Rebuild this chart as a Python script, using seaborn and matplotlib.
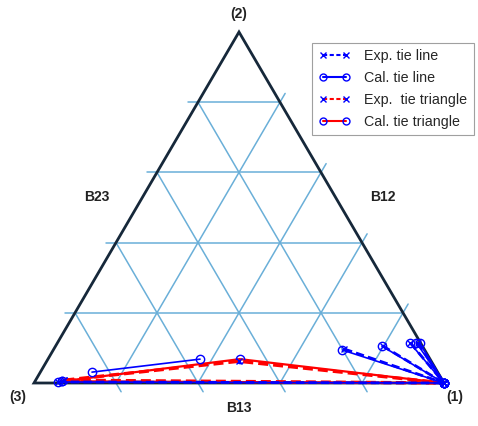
import numpy as np
import pandas as pd
import matplotlib
matplotlib.use("Agg")
import matplotlib.pyplot as plt
from matplotlib.lines import Line2D
import seaborn as sns

# ---- data: ternary mole fractions (x1, x2); x3 = 1 - x1 - x2 ----
# experimental tie lines: end a (poor in component 1) and end b (rich in component 1)
exp_tie_a_x1 = [0.058, 0.708, 0.797, 0.861, 0.879]
exp_tie_a_x2 = [0.003, 0.097, 0.106, 0.114, 0.115]
exp_tie_b_x1 = [1.000, 1.000, 1.000, 1.000, 1.000]
exp_tie_b_x2 = [0.000, 0.000, 0.000, 0.000, 0.000]

# calculated tie lines
cal_tie_a_x1 = [0.056, 0.126, 0.705, 0.796, 0.860, 0.875, 0.884]
cal_tie_a_x2 = [0.003, 0.031, 0.094, 0.105, 0.114, 0.115, 0.114]
cal_tie_b_x1 = [1.000, 0.371, 1.000, 1.000, 1.000, 1.000, 1.000]
cal_tie_b_x2 = [0.000, 0.068, 0.000, 0.000, 0.000, 0.000, 0.000]

# three-phase tie triangles (vertices)
exp_tri_x1 = [0.070, 0.469, 1.000]
exp_tri_x2 = [0.008, 0.062, 0.000]
cal_tri_x1 = [0.066, 0.468, 1.000]
cal_tri_x2 = [0.005, 0.068, 0.000]

grid_levels = [0.2, 0.4, 0.6, 0.8]
vertex_labels = ["(1)", "(2)", "(3)"]
edge_labels = ["B12", "B23", "B13"]
legend_labels = ["Exp. tie line", "Cal. tie line", "Exp.  tie triangle", "Cal. tie triangle"]

H = np.sqrt(3) / 2


def to_xy(x1, x2):
    x1 = np.asarray(x1, float)
    x2 = np.asarray(x2, float)
    return x1 + 0.5 * x2, x2 * H


def segments_frame(ax1, ax2, bx1, bx2):
    rows = []
    for i, (a1, a2, b1, b2) in enumerate(zip(ax1, ax2, bx1, bx2)):
        for p1, p2 in ((a1, a2), (b1, b2)):
            X, Y = to_xy(p1, p2)
            rows.append({"seg": i, "X": float(X), "Y": float(Y)})
    return pd.DataFrame(rows)


def polygon_frame(x1, x2):
    X, Y = to_xy(list(x1) + [x1[0]], list(x2) + [x2[0]])
    return pd.DataFrame({"seg": 0, "X": X, "Y": Y})


sns.set_style("white")
plt.rcParams["font.family"] = ["Liberation Sans", "DejaVu Sans"]

W, Hpx = 478, 426
fig = plt.figure(figsize=(W / 100, Hpx / 100), dpi=100)
ax = fig.add_axes([0, 0, 1, 1])

# triangle placement in the figure (pixels)
left_px, right_px, base_px, top_px = 34, 444, 383, 32
sx = right_px - left_px
sy = (base_px - top_px) / H
ax.set_xlim(-left_px / sx, (W - left_px) / sx)
ax.set_ylim(-(Hpx - base_px) / sy, base_px / sy)
ax.set_axis_off()

grid_color = "#6aafd8"
edge_color = "#16283a"
ext = 0.025

# grid lines, each overhanging one side of the triangle
for k in grid_levels:
    # constant x2 (horizontal), overhangs the 2-3 side
    X, Y = to_xy([-ext, 1 - k], [k, k])
    ax.plot(X, Y, color=grid_color, lw=1.1, zorder=1)
    # constant x1, overhangs the 1-2 side
    X, Y = to_xy([k, k], [0, 1 - k + ext])
    ax.plot(X, Y, color=grid_color, lw=1.1, zorder=1)
    # constant x3, overhangs the 1-3 side
    X, Y = to_xy([0, 1 - k + ext], [1 - k, -ext])
    ax.plot(X, Y, color=grid_color, lw=1.1, zorder=1)

# triangle outline
X, Y = to_xy([1, 0, 0, 1], [0, 1, 0, 0])
ax.plot(X, Y, color=edge_color, lw=2.0, zorder=2, solid_joinstyle="miter")

# tie triangles
cal_tri = polygon_frame(cal_tri_x1, cal_tri_x2)
exp_tri = polygon_frame(exp_tri_x1, exp_tri_x2)
sns.lineplot(data=cal_tri, x="X", y="Y", units="seg", estimator=None, sort=False,
             ax=ax, color="red", lw=1.6, marker="o", markersize=6,
             markerfacecolor="none", markeredgecolor="blue", markeredgewidth=1.0,
             zorder=4, legend=False)
sns.lineplot(data=exp_tri, x="X", y="Y", units="seg", estimator=None, sort=False,
             ax=ax, color="red", lw=2.4, linestyle=(0, (3, 1.5)), marker="x",
             markersize=5, markeredgecolor="blue", markeredgewidth=1.0,
             zorder=5, legend=False)

# tie lines
cal_tie = segments_frame(cal_tie_a_x1, cal_tie_a_x2, cal_tie_b_x1, cal_tie_b_x2)
exp_tie = segments_frame(exp_tie_a_x1, exp_tie_a_x2, exp_tie_b_x1, exp_tie_b_x2)
sns.lineplot(data=cal_tie, x="X", y="Y", units="seg", estimator=None, sort=False,
             ax=ax, color="blue", lw=1.2, marker="o", markersize=6,
             markerfacecolor="none", markeredgecolor="blue", markeredgewidth=1.0,
             zorder=6, legend=False)
sns.lineplot(data=exp_tie, x="X", y="Y", units="seg", estimator=None, sort=False,
             ax=ax, color="blue", lw=2.0, linestyle=(0, (3, 1.5)), marker="x",
             markersize=5, markeredgecolor="blue", markeredgewidth=1.0,
             zorder=7, legend=False)

# vertex and edge labels
lab_kw = dict(fontsize=10, fontweight="bold", color="#222222", ha="center", va="center")
vx, vy = to_xy([1, 0, 0], [0, 1, 0])
ax.text(vx[0] + 11 / sx, vy[0] - 14 / sy, vertex_labels[0], **lab_kw)
ax.text(vx[1], vy[1] + 18 / sy, vertex_labels[1], **lab_kw)
ax.text(vx[2] - 16 / sx, vy[2] - 14 / sy, vertex_labels[2], **lab_kw)
ax.text((383 - left_px) / sx, (base_px - 197) / sy, edge_labels[0], **lab_kw)
ax.text((97 - left_px) / sx, (base_px - 197) / sy, edge_labels[1], **lab_kw)
ax.text(0.5, -25 / sy, edge_labels[2], **lab_kw)

# legend
handles = [
    Line2D([], [], color="blue", lw=1.5, linestyle=(0, (2, 1.2)), marker="x",
           markersize=5, markeredgecolor="blue", markeredgewidth=1.0),
    Line2D([], [], color="blue", lw=1.5, marker="o", markersize=5,
           markerfacecolor="none", markeredgecolor="blue", markeredgewidth=1.0),
    Line2D([], [], color="red", lw=1.5, linestyle=(0, (2, 1.2)), marker="x",
           markersize=5, markeredgecolor="blue", markeredgewidth=1.0),
    Line2D([], [], color="red", lw=1.5, marker="o", markersize=5,
           markerfacecolor="none", markeredgecolor="blue", markeredgewidth=1.0),
]
leg = fig.legend(handles, legend_labels, loc="upper left",
                 bbox_to_anchor=(312 / W, 1 - 43 / Hpx), bbox_transform=fig.transFigure,
                 borderaxespad=0, fontsize=10.3, frameon=True, fancybox=False,
                 handlelength=2.2, handletextpad=1.0, labelspacing=0.55,
                 borderpad=0.45, numpoints=2)
leg.get_frame().set_edgecolor("#888888")
leg.get_frame().set_linewidth(0.8)

fig.savefig("out.png", dpi=100)
